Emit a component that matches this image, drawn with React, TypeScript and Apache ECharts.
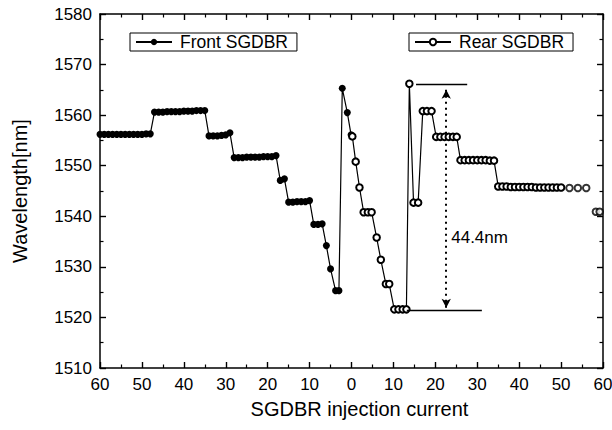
import React, { useEffect, useRef } from "react";
import * as echarts from "echarts";

// Front SGDBR: injection current (mA, decreasing towards 0) and wavelength (nm)
const FRONT_CURRENT = [
  60, 59, 58, 57, 56, 55, 54, 53, 52, 51, 50, 49, 48,
  47, 46, 45, 44, 43, 42, 41, 40, 39, 38, 37, 36, 35,
  34, 33, 32, 31, 30, 29,
  28, 27, 26, 25, 24, 23, 22, 21, 20, 19, 18,
  17, 16,
  15, 14, 13, 12, 11, 10,
  9, 8, 7,
  6, 5, 3.8, 3.0,
  2.2, 1.0, 0.1,
];
const FRONT_WL = [
  1556.2, 1556.2, 1556.2, 1556.2, 1556.2, 1556.2, 1556.2, 1556.2, 1556.2, 1556.2, 1556.2, 1556.3, 1556.3,
  1560.6, 1560.6, 1560.6, 1560.7, 1560.7, 1560.7, 1560.7, 1560.8, 1560.8, 1560.8, 1560.9, 1560.9, 1560.9,
  1555.9, 1555.9, 1555.9, 1556.0, 1556.1, 1556.5,
  1551.6, 1551.6, 1551.6, 1551.7, 1551.7, 1551.7, 1551.7, 1551.8, 1551.8, 1551.8, 1552.0,
  1547.1, 1547.4,
  1542.8, 1542.8, 1542.9, 1542.9, 1542.9, 1543.1,
  1538.4, 1538.4, 1538.5,
  1534.2, 1529.6, 1525.3, 1525.3,
  1565.3, 1560.5, 1556.1,
];

// Rear SGDBR: injection current (mA, increasing from 0) and wavelength (nm)
const REAR_CURRENT = [
  0.2, 1.0, 1.9,
  2.9, 3.9, 4.8,
  6.0, 7.0,
  8.2, 9.0,
  10.2, 11.2, 12.2, 13.1,
  13.8,
  14.8, 15.9,
  17.0, 18.0, 19.1,
  20.2, 21.2, 22.2, 23.2, 24.2, 25.1,
  26, 27, 28, 29, 30, 31, 32, 33, 34,
  35, 36, 37, 38, 39, 40, 41, 42, 43, 44, 45, 46, 47, 48, 49, 50,
];
const REAR_WL = [
  1555.8, 1550.8, 1545.7,
  1540.8, 1540.8, 1540.8,
  1535.8, 1531.4,
  1526.6, 1526.6,
  1521.6, 1521.6, 1521.6, 1521.6,
  1566.2,
  1542.7, 1542.7,
  1560.8, 1560.8, 1560.8,
  1555.7, 1555.7, 1555.7, 1555.7, 1555.7, 1555.7,
  1551.1, 1551.1, 1551.1, 1551.1, 1551.1, 1551.1, 1551.1, 1551.0, 1551.0,
  1545.9, 1545.9, 1545.9, 1545.8, 1545.8, 1545.8, 1545.8, 1545.8, 1545.8, 1545.7, 1545.7, 1545.7, 1545.7, 1545.7, 1545.7, 1545.7,
];
// Rear SGDBR points not joined by the line
const REAR_TAIL_CURRENT = [52, 54, 56, 58.3, 59.2];
const REAR_TAIL_WL = [1545.6, 1545.6, 1545.6, 1540.9, 1540.9];

// Axis ticks
const X_TICK_VALUES = [60, 50, 40, 30, 20, 10, 0, 10, 20, 30, 40, 50, 60];
const Y_MIN = 1510;
const Y_MAX = 1580;
const Y_STEP = 10;

// Tuning-range annotation (rear current, mA / wavelength, nm)
const RANGE_TOP = { from: 15.4, to: 27.6, wl: 1566.2 };
const RANGE_BOTTOM = { from: 13.2, to: 31.1, wl: 1521.5 };
const RANGE_ARROW = { at: 22.6, top: 1565.0, bottom: 1521.9 };
const RANGE_LABEL = { at: 22.6, wl: 1535.9, text: "44.4nm" };

const LEGEND_FRONT = "Front SGDBR";
const LEGEND_REAR = "Rear SGDBR";

// map a side's current onto the mirrored axis (0..120, centre = 0 mA)
const toAxis = (side: "front" | "rear", mA: number) => (side === "front" ? 60 - mA : 60 + mA);

const FONT = "Liberation Sans, Arial, sans-serif";

export default function App() {
  const ref = useRef<HTMLDivElement>(null);

  useEffect(() => {
    if (!ref.current) return;
    const chart = echarts.init(ref.current, undefined, { renderer: "svg" });

    const front = FRONT_CURRENT.map((c, i) => [toAxis("front", c), FRONT_WL[i]]);
    const rear = REAR_CURRENT.map((c, i) => [toAxis("rear", c), REAR_WL[i]]);
    const rearTail = REAR_TAIL_CURRENT.map((c, i) => [toAxis("rear", c), REAR_TAIL_WL[i]]);

    const axisCommon = {
      type: "value" as const,
      axisLine: { show: true, onZero: false, lineStyle: { color: "#000", width: 1.5 } },
      axisTick: { show: true, length: -6, lineStyle: { color: "#000", width: 1.4 } },
      minorTick: { show: true, splitNumber: 2, length: -3.5, lineStyle: { color: "#000", width: 1.2 } },
      splitLine: { show: false },
    };

    const legendCommon = {
      top: 33,
      padding: [0, 9, 0, 5],
      itemWidth: 36,
      itemHeight: 8,
      itemGap: 0,
      borderColor: "#000",
      borderWidth: 1,
      selectedMode: false,
      textStyle: { fontSize: 17.5, color: "#000", fontFamily: FONT, lineHeight: 18, padding: [0, 0, 0, 3] },
    };

    chart.setOption({
      animation: false,
      backgroundColor: "#fff",
      textStyle: { fontFamily: FONT },
      grid: { left: 100, right: 9, top: 14, bottom: 62, containLabel: false, outerBoundsMode: "none" },
      legend: [
        { ...legendCommon, data: [LEGEND_FRONT], left: 130 },
        { ...legendCommon, data: [LEGEND_REAR], left: 409 },
      ],
      xAxis: [
        {
          ...axisCommon,
          position: "bottom",
          min: 0,
          max: 120,
          interval: 10,
          name: "SGDBR injection current",
          nameLocation: "middle",
          nameGap: 31,
          nameTextStyle: { fontSize: 20, color: "#000", fontFamily: FONT, padding: [0, 0, 0, 16] },
          axisLabel: {
            color: "#000",
            fontSize: 17,
            margin: 8,
            fontFamily: FONT,
            showMaxLabel: true,
            formatter: (v: number) => String(X_TICK_VALUES[Math.round(v / 10)]),
          },
        },
        {
          ...axisCommon,
          position: "top",
          min: 0,
          max: 120,
          interval: 10,
          axisLabel: { show: false },
        },
      ],
      yAxis: [
        {
          ...axisCommon,
          position: "left",
          min: Y_MIN,
          max: Y_MAX,
          interval: Y_STEP,
          name: "Wavelength[nm]",
          nameLocation: "middle",
          nameGap: 70,
          nameTextStyle: { fontSize: 20, color: "#000", fontFamily: FONT },
          axisLabel: {
            color: "#000",
            fontSize: 17,
            margin: 8,
            fontFamily: FONT,
            formatter: (v: number) => String(v),
          },
        },
        {
          ...axisCommon,
          position: "right",
          min: Y_MIN,
          max: Y_MAX,
          interval: Y_STEP,
          axisLabel: { show: false },
        },
      ],
      series: [
        {
          name: LEGEND_FRONT,
          type: "line",
          data: front,
          symbol: "circle",
          symbolSize: 7,
          showAllSymbol: true,
          itemStyle: { color: "#000" },
          lineStyle: { color: "#000", width: 1.2 },
          emphasis: { disabled: true },
          z: 3,
        },
        {
          name: LEGEND_REAR,
          type: "line",
          data: rear,
          symbol: "emptyCircle",
          symbolSize: 6.5,
          showAllSymbol: true,
          itemStyle: { color: "#000", borderWidth: 1 },
          lineStyle: { color: "#000", width: 1.2 },
          emphasis: { disabled: true },
          z: 4,
          markLine: {
            silent: true,
            animation: false,
            symbolSize: [7, 9],
            label: { show: false },
            emphasis: { disabled: true },
            lineStyle: { color: "#000", width: 1.3, type: "solid" },
            data: [
              [
                { coord: [toAxis("rear", RANGE_TOP.from), RANGE_TOP.wl], symbol: "none" },
                { coord: [toAxis("rear", RANGE_TOP.to), RANGE_TOP.wl], symbol: "none" },
              ],
              [
                { coord: [toAxis("rear", RANGE_BOTTOM.from), RANGE_BOTTOM.wl], symbol: "none" },
                { coord: [toAxis("rear", RANGE_BOTTOM.to), RANGE_BOTTOM.wl], symbol: "none" },
              ],
              [
                {
                  coord: [toAxis("rear", RANGE_ARROW.at), RANGE_ARROW.top],
                  symbol: "arrow",
                  lineStyle: { color: "#000", width: 2, type: [2, 4] },
                },
                { coord: [toAxis("rear", RANGE_ARROW.at), RANGE_ARROW.bottom], symbol: "arrow" },
              ],
            ],
          },
          markPoint: {
            silent: true,
            animation: false,
            symbol: "circle",
            symbolSize: 0,
            data: [
              {
                coord: [toAxis("rear", RANGE_LABEL.at), RANGE_LABEL.wl],
                label: {
                  show: true,
                  formatter: RANGE_LABEL.text,
                  position: "right",
                  distance: 5,
                  color: "#000",
                  fontSize: 17,
                  fontFamily: FONT,
                },
              },
            ],
          },
        },
        {
          name: LEGEND_REAR,
          type: "scatter",
          data: rearTail,
          symbol: "emptyCircle",
          symbolSize: 6.5,
          itemStyle: { color: "#000", borderWidth: 1 },
          emphasis: { disabled: true },
          z: 4,
        },
      ],
    });

    return () => chart.dispose();
  }, []);

  return (
    <div
      ref={ref}
      style={{ position: "fixed", left: 0, top: 0, width: 612, height: 430, overflow: "hidden" }}
    />
  );
}
